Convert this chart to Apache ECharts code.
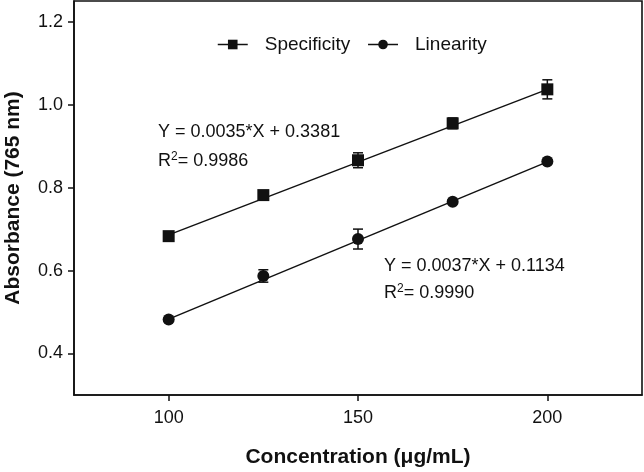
<!DOCTYPE html>
<html>
<head>
<meta charset="utf-8">
<script src="https://cdn.jsdelivr.net/npm/echarts@6/dist/echarts.min.js"></script>
<style>html,body{margin:0;padding:0;background:#fff}#c{width:644px;height:472px}</style>
</head>
<body>
<div id="c"></div>
<script>
const concentrations = [100, 125, 150, 175, 200];
const specificity = [0.683, 0.782, 0.866, 0.955, 1.037];
const specificityErr = [0.004, 0.006, 0.018, 0.013, 0.023];
const linearity = [0.482, 0.587, 0.676, 0.766, 0.863];
const linearityErr = [0.003, 0.015, 0.024, 0.005, 0.004];
const fitX = [100, 200];
const specificityFit = [0.686, 1.037];
const linearityFit = [0.483, 0.862];
const xTicks = [100, 150, 200];
const yTicks = [0.4, 0.6, 0.8, 1.0, 1.2];
const eq1 = ['Y = 0.0035*X + 0.3381', '0.9986'];
const eq2 = ['Y = 0.0037*X + 0.1134', '0.9990'];

const FONT = 'Liberation Sans, Arial, sans-serif';
const INK = '#111';

function pts(xs, ys) { return xs.map((x, i) => [x, ys[i]]); }
function errData(xs, ys, es) { return xs.map((x, i) => [x, ys[i] - es[i], ys[i] + es[i]]); }

function errRender(params, api) {
  const x = api.value(0);
  const lo = api.coord([x, api.value(1)]);
  const hi = api.coord([x, api.value(2)]);
  const hw = 5;
  const st = { stroke: INK, lineWidth: 1.5 };
  return {
    type: 'group',
    children: [
      { type: 'line', shape: { x1: lo[0], y1: lo[1], x2: hi[0], y2: hi[1] }, style: st },
      { type: 'line', shape: { x1: lo[0] - hw, y1: lo[1], x2: lo[0] + hw, y2: lo[1] }, style: st },
      { type: 'line', shape: { x1: hi[0] - hw, y1: hi[1], x2: hi[0] + hw, y2: hi[1] }, style: st }
    ]
  };
}

const chart = echarts.init(document.getElementById('c'), null, { renderer: 'canvas' });
const supRich = {
  r: { fontSize: 18, fontFamily: FONT, color: INK },
  s: { fontSize: 12, fontFamily: FONT, color: INK, verticalAlign: 'top', padding: [0, 0, 8, 0] }
};
const option = {
  animation: false,
  backgroundColor: '#fff',
  textStyle: { fontFamily: FONT },
  grid: { left: 74, top: 1, right: 2, bottom: 77, containLabel: false, outerBoundsMode: 'none',
    show: true, borderColor: INK, borderWidth: 1.6, backgroundColor: 'transparent' },
  legend: {
    left: 212, top: 30,
    itemWidth: 30, itemHeight: 12, itemGap: 17,
    data: ['Specificity', 'Linearity'],
    textStyle: { fontFamily: FONT, fontSize: 19, color: INK, padding: [0, 0, 0, 12] },
    lineStyle: { width: 1.5, color: INK },
    itemStyle: { color: INK }
  },
  xAxis: {
    type: 'value', min: 75, max: 225,
    name: 'Concentration (\u03bcg/mL)', nameLocation: 'middle', nameGap: 52,
    nameTextStyle: { fontFamily: FONT, fontWeight: 'bold', fontSize: 21, color: INK },
    axisLine: { show: true, lineStyle: { color: INK, width: 1.6 } },
    axisTick: { show: true, inside: false, length: 6, lineStyle: { color: INK, width: 1.5 }, customValues: xTicks },
    axisLabel: { margin: 14, fontFamily: FONT, fontSize: 18, color: INK, customValues: xTicks },
    splitLine: { show: false }
  },
  yAxis: {
    type: 'value', min: 0.3, max: 1.25,
    name: 'Absorbance (765 nm)', nameLocation: 'middle', nameGap: 50, nameRotate: 90,
    nameTextStyle: { fontFamily: FONT, fontWeight: 'bold', fontSize: 21, color: INK },
    axisLine: { show: true, lineStyle: { color: INK, width: 1.6 } },
    axisTick: { show: true, inside: false, length: 6, lineStyle: { color: INK, width: 1.5 }, customValues: yTicks },
    axisLabel: { margin: 11, fontFamily: FONT, fontSize: 18, color: INK, customValues: yTicks, formatter: v => v.toFixed(1) },
    splitLine: { show: false }
  },
  series: [
    { name: 'SpecFit', type: 'line', data: pts(fitX, specificityFit), symbol: 'none', lineStyle: { color: INK, width: 1.5 }, silent: true, z: 2 },
    { name: 'LinFit', type: 'line', data: pts(fitX, linearityFit), symbol: 'none', lineStyle: { color: INK, width: 1.5 }, silent: true, z: 2 },
    { name: 'SpecErr', type: 'custom', renderItem: errRender, data: errData(concentrations, specificity, specificityErr), z: 3 },
    { name: 'LinErr', type: 'custom', renderItem: errRender, data: errData(concentrations, linearity, linearityErr), z: 3 },
    { name: 'Specificity', type: 'line', data: pts(concentrations, specificity), symbol: 'rect', symbolSize: 12,
      itemStyle: { color: INK }, lineStyle: { width: 0, color: INK }, z: 4 },
    { name: 'Linearity', type: 'line', data: pts(concentrations, linearity), symbol: 'circle', symbolSize: 12,
      itemStyle: { color: INK }, lineStyle: { width: 0, color: INK }, z: 4 }
  ],
  graphic: [
    { type: 'text', left: 158, top: 123, style: { text: eq1[0], font: '18px ' + FONT, fill: INK } },
    { type: 'text', left: 158, top: 151, style: { text: '{r|R}{s|2}{r|= ' + eq1[1] + '}', fill: INK, rich: supRich } },
    { type: 'text', left: 384, top: 257, style: { text: eq2[0], font: '18px ' + FONT, fill: INK } },
    { type: 'text', left: 384, top: 283, style: { text: '{r|R}{s|2}{r|= ' + eq2[1] + '}', fill: INK, rich: supRich } }
  ]
};
chart.setOption(option);
</script>
</body>
</html>
